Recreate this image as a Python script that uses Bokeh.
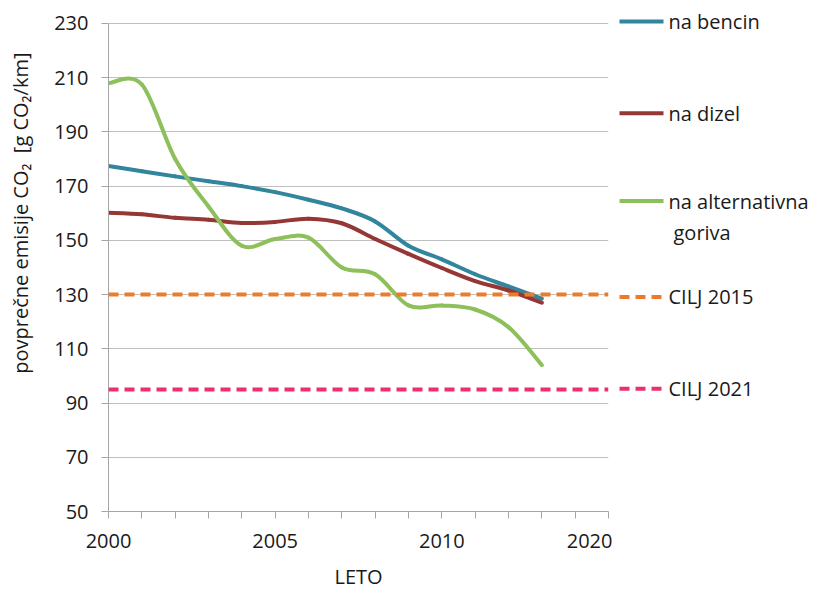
import math
from bokeh.plotting import figure
from bokeh.layouts import row
from bokeh.models import FixedTicker, Span, Range1d
from bokeh.core.properties import value
from bokeh.embed import file_html
from bokeh.resources import INLINE

# ---------------- data ----------------
years = list(range(2000, 2014))
bencin = [177.4, 175.5, 173.6, 171.8, 170.0, 167.8, 165.0, 161.8, 157.0, 148.0, 143.0, 137.5, 133.0, 128.5]
dizel = [160.2, 159.6, 158.3, 157.6, 156.4, 156.8, 158.0, 156.3, 150.5, 145.0, 139.8, 135.0, 131.5, 127.0]
alternativna = [208.0, 207.5, 180.0, 162.5, 148.0, 150.5, 151.0, 140.0, 137.5, 126.0, 126.0, 124.5, 118.0, 104.0]
cilj_2015 = 130
cilj_2021 = 95

x_tick_values = [2000, 2005, 2010, 2015]
x_tick_labels = ["2000", "2005", "2010", "2020"]
x_year_ticks = list(range(2000, 2016))
y_ticks = list(range(50, 231, 20))

series_names = ["na bencin", "na dizel", "na alternativna", "CILJ 2015", "CILJ 2021"]
series_extra_line = ["", "", "goriva", "", ""]
series_dash = ["solid", "solid", "solid", "10 6", "10 6"]
series_colors = ["#31859C", "#953735", "#8DC05A", "#EE7B2A", "#EC2F6E"]
y_title = "povprečne emisije CO\u2082\u00a0 [g CO\u2082/km]"
x_title = "LETO"

FONT = "Open Sans"
FS = "20px"
TXT = "#1a1a1a"
GRID = "#BFBFBF"
H = 592
FRAME_TOP_PX = 23      # page y of value 230
FRAME_BOTTOM_PX = 512  # page y of value 50
Y_MIN, Y_MAX = 50, 230
px_per_unit = (FRAME_BOTTOM_PX - FRAME_TOP_PX) / (Y_MAX - Y_MIN)
y_range_top = Y_MAX + FRAME_TOP_PX / px_per_unit  # extend frame to the canvas top


def bezier_segments(xs, ys):
    n = len(xs)
    out = dict(x0=[], y0=[], x1=[], y1=[], cx0=[], cy0=[], cx1=[], cy1=[])
    for i in range(n - 1):
        xp, yp = (xs[i - 1], ys[i - 1]) if i > 0 else (xs[i], ys[i])
        xn, yn = (xs[i + 2], ys[i + 2]) if i + 2 < n else (xs[i + 1], ys[i + 1])
        out["x0"].append(xs[i]); out["y0"].append(ys[i])
        out["x1"].append(xs[i + 1]); out["y1"].append(ys[i + 1])
        out["cx0"].append(xs[i] + (xs[i + 1] - xp) / 6.0)
        out["cy0"].append(ys[i] + (ys[i + 1] - yp) / 6.0)
        out["cx1"].append(xs[i + 1] - (xn - xs[i]) / 6.0)
        out["cy1"].append(ys[i + 1] - (yn - ys[i]) / 6.0)
    return out


def blank(fig):
    fig.outline_line_color = None
    fig.axis.visible = False
    fig.grid.grid_line_color = None
    fig.min_border = 0
    fig.background_fill_color = "white"
    fig.border_fill_color = "white"


# side strips share the main frame's vertical extent (0 .. FRAME_BOTTOM_PX)
LW = 40
left = figure(width=LW, height=H, output_backend="svg", toolbar_location=None,
              x_range=Range1d(0, LW), y_range=Range1d(FRAME_BOTTOM_PX, 0))
blank(left)
left.text(x=[20], y=[213], text=[y_title], angle=math.pi / 2, text_align="center",
          text_baseline="middle", text_font=value(FONT), text_font_size=FS, text_color=TXT)

# ---------------- main plot ----------------
MW = 572
p = figure(width=MW, height=H, output_backend="svg", toolbar_location=None,
           x_range=Range1d(2000, 2015), y_range=Range1d(Y_MIN, y_range_top),
           min_border_left=108 - LW, min_border_right=MW - (108 - LW) - 500,
           min_border_top=0, min_border_bottom=H - FRAME_BOTTOM_PX)
p.outline_line_color = None
p.background_fill_color = "white"
p.border_fill_color = "white"

p.xaxis.ticker = FixedTicker(ticks=x_year_ticks)
overrides = {y: "" for y in x_year_ticks}
overrides.update({v: l for v, l in zip(x_tick_values, x_tick_labels)})
p.xaxis.major_label_overrides = overrides
p.yaxis.ticker = FixedTicker(ticks=y_ticks)
p.yaxis.bounds = (Y_MIN, Y_MAX)
for ax in (p.xaxis, p.yaxis):
    ax.axis_line_color = "#A6A6A6"
    ax.major_tick_line_color = "#A6A6A6"
    ax.minor_tick_line_color = None
    ax.major_tick_in = 0
    ax.major_tick_out = 7
    ax.major_label_text_font = FONT
    ax.major_label_text_font_size = FS
    ax.major_label_text_color = TXT
p.yaxis.major_label_standoff = 13
p.xaxis.major_label_standoff = 15
p.xaxis.axis_label = x_title
p.xaxis.axis_label_text_font = FONT
p.xaxis.axis_label_text_font_size = FS
p.xaxis.axis_label_text_font_style = "normal"
p.xaxis.axis_label_text_color = TXT
p.xaxis.axis_label_standoff = 12
p.xgrid.grid_line_color = None
p.ygrid.ticker = FixedTicker(ticks=y_ticks[1:])
p.ygrid.grid_line_color = GRID
p.ygrid.grid_line_width = 1

for vals, col in zip([bencin, dizel, alternativna], series_colors[:3]):
    seg = bezier_segments(years, vals)
    p.bezier(source=seg, x0="x0", y0="y0", x1="x1", y1="y1", cx0="cx0", cy0="cy0",
             cx1="cx1", cy1="cy1", line_color=col, line_width=4, line_cap="round")

for loc, col, dash in zip([cilj_2015, cilj_2021], series_colors[3:], series_dash[3:]):
    p.add_layout(Span(location=loc, dimension="width", line_color=col, line_width=4,
                      line_dash=dash))

# ---------------- right strip: legend ----------------
RX0 = LW + MW
RW = 814 - RX0
right = figure(width=RW, height=H, output_backend="svg", toolbar_location=None,
               x_range=Range1d(RX0, 814), y_range=Range1d(FRAME_BOTTOM_PX, 0))
blank(right)
leg_y = [21, 113, 201, 297, 389]
for name, extra, col, ly, dash in zip(series_names, series_extra_line, series_colors,
                                      leg_y, series_dash):
    right.line(x=[619, 663], y=[ly, ly], line_color=col, line_width=4, line_dash=dash)
    right.text(x=[668], y=[ly], text=[name], text_baseline="middle",
               text_font=value(FONT), text_font_size=FS, text_color=TXT)
    if extra:
        right.text(x=[673], y=[ly + 31], text=[extra], text_baseline="middle",
                   text_font=value(FONT), text_font_size=FS, text_color=TXT)

layout = row(left, p, right, spacing=0)
open("out.html", "w").write(file_html(layout, INLINE))
